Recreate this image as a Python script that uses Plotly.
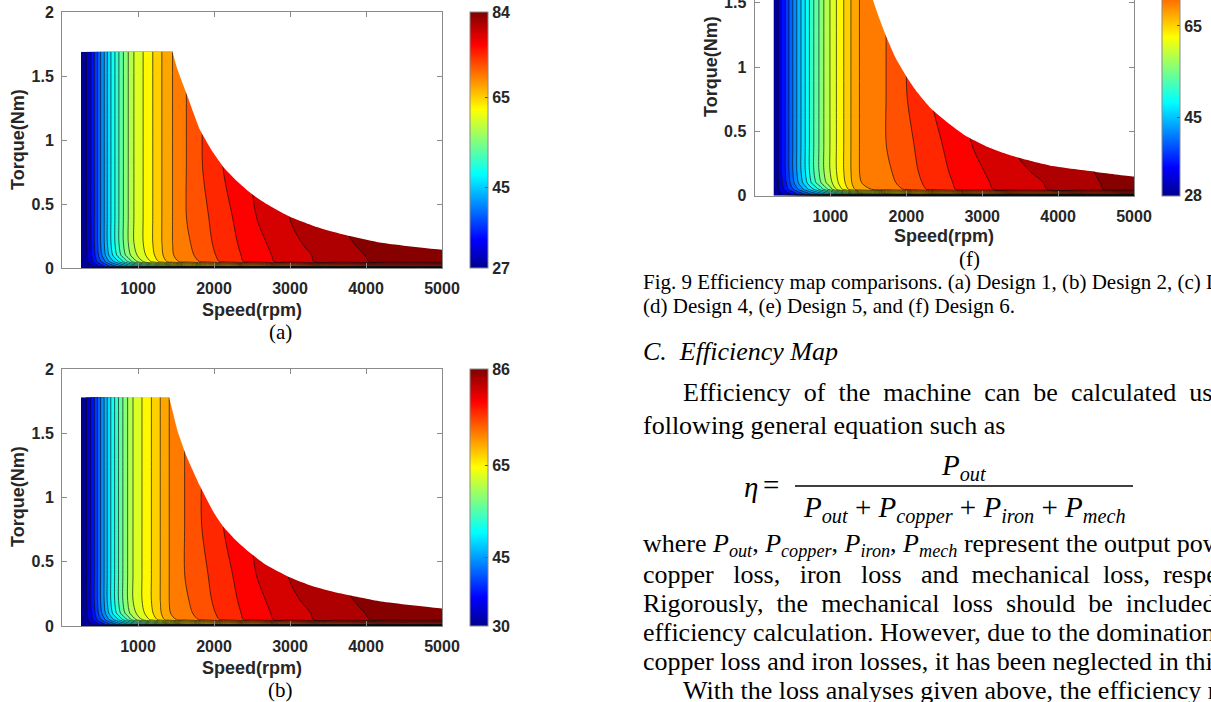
import plotly.graph_objects as go

W, H = 1211, 702

# ------------------------------------------------------------------ data
# Design 1 (a)
speed_a = [250, 325, 382, 425, 469, 509, 557, 596, 645, 697, 750, 807, 873, 947,
           1070, 1193, 1316, 1456, 1640, 1850, 2120, 2480, 3000, 3650, 4300, 5000]
torque_a = [0, 0.012, 0.05, 0.1, 0.2, 0.4, 0.8, 1.2, 1.69]
eff_a = [
    [27.1, 27.1, 27.1, 27.1, 27.1, 27.1, 27.1, 27.1, 27.1, 27.1, 27.1, 27.1, 27.1, 27.1, 27.1, 27.1, 27.1, 27.1, 27.1, 27.1, 27.1, 27.1, 27.1, 27.1, 27.1, 27.1],
    [27.1, 28.0, 29.0, 30.0, 31.0, 32.0, 33.5, 35.0, 36.6, 38.0, 39.5, 41.0, 43.0, 45.0, 47.5, 50.0, 52.0, 54.0, 56.5, 58.5, 61.0, 63.5, 66.0, 68.5, 70.0, 71.0],
    [27.2, 28.8, 30.6, 32.5, 34.55, 36.3, 38.3, 40.2, 42.25, 44.2, 46.1, 48.5, 51.15, 54.3, 57.9, 60.8, 63.7, 66.6, 68.35, 70.1, 72.6, 75.2, 78.0, 80.6, 82.3, 83.5],
    [27.2, 29.1, 31.3, 33.5, 35.85, 38.1, 40.4, 42.6, 45.05, 47.3, 49.7, 52.0, 54.55, 57.0, 59.6, 62.1, 64.75, 67.25, 68.9, 70.75, 72.9, 75.35, 78.2, 80.6, 82.6, 83.95],
    [27.2, 29.4, 31.8, 34.1, 36.55, 38.9, 41.3, 43.6, 46.05, 48.4, 50.8, 53.1, 55.55, 57.9, 60.3, 62.6, 65.05, 67.4, 69.3, 71.2, 73.2, 75.7, 78.65, 81.25, 82.6, 83.5],
    [27.2, 29.4, 31.8, 34.1, 36.55, 38.9, 41.3, 43.6, 46.05, 48.4, 50.8, 53.1, 55.55, 57.9, 60.3, 62.6, 65.05, 67.4, 69.8, 71.55, 73.5, 76.45, 79.3, 81.6, 82.8, 83.6],
    [27.2, 29.4, 31.8, 34.1, 36.55, 38.9, 41.3, 43.6, 46.05, 48.4, 50.8, 53.1, 55.55, 57.9, 60.3, 62.6, 65.05, 67.4, 69.8, 72.15, 74.55, 76.9, 79.3, 81.6, 82.8, 83.6],
    [27.2, 29.4, 31.8, 34.1, 36.55, 38.9, 41.3, 43.6, 46.05, 48.4, 50.8, 53.1, 55.55, 57.9, 60.3, 62.6, 65.05, 67.4, 69.8, 72.15, 74.55, 76.9, 79.3, 81.6, 82.8, 83.6],
    [27.2, 29.4, 31.8, 34.1, 36.55, 38.9, 41.3, 43.6, 46.05, 48.4, 50.8, 53.1, 55.55, 57.9, 60.3, 62.6, 65.05, 67.4, 69.8, 72.15, 74.55, 76.9, 79.3, 81.6, 82.8, 83.6],
]
edge_speed_a = [1456, 1520, 1640, 1816, 1991, 2123, 2300, 2482, 2693, 3000, 3351, 3658, 4228, 5000]
edge_torque_a = [1.69, 1.55, 1.36, 1.08, 0.90, 0.79, 0.68, 0.586, 0.50, 0.40, 0.32, 0.268, 0.195, 0.143]
cbar_a = [27, 45, 65, 84]

# Design 2 (b)
speed_b = [250, 325, 380, 425, 468, 508, 555, 595, 643, 693, 745, 800, 865, 935,
           1055, 1175, 1295, 1412, 1618, 1838, 2123, 2482, 2978, 3658, 4300, 5000]
torque_b = [0, 0.012, 0.05, 0.1, 0.2, 0.4, 0.8, 1.2, 1.78]
eff_b = [
    [30.1, 30.1, 30.1, 30.1, 30.1, 30.1, 30.1, 30.1, 30.1, 30.1, 30.1, 30.1, 30.1, 30.1, 30.1, 30.1, 30.1, 30.1, 30.1, 30.1, 30.1, 30.1, 30.1, 30.1, 30.1, 30.1],
    [30.1, 31.0, 32.0, 33.0, 33.9, 34.9, 36.4, 37.9, 39.3, 40.8, 42.3, 43.8, 45.7, 47.7, 50.1, 52.6, 54.6, 56.5, 59.0, 61.0, 63.4, 65.9, 68.3, 70.8, 72.2, 73.2],
    [30.2, 31.77, 33.54, 35.4, 37.42, 39.14, 41.1, 42.97, 44.98, 46.9, 48.77, 51.12, 53.73, 56.82, 60.36, 63.21, 66.06, 68.91, 70.62, 72.34, 74.8, 77.36, 80.11, 82.66, 84.33, 85.51],
    [30.2, 32.06, 34.22, 36.39, 38.7, 40.9, 43.16, 45.33, 47.73, 49.94, 52.3, 54.56, 57.07, 59.47, 62.03, 64.48, 67.09, 69.54, 71.17, 72.98, 75.1, 77.51, 80.31, 82.66, 84.63, 85.95],
    [30.2, 32.36, 34.72, 36.98, 39.38, 41.69, 44.05, 46.31, 48.72, 51.02, 53.38, 55.64, 58.05, 60.36, 62.72, 64.98, 67.38, 69.69, 71.56, 73.43, 75.39, 77.85, 80.75, 83.3, 84.63, 85.51],
    [30.2, 32.36, 34.72, 36.98, 39.38, 41.69, 44.05, 46.31, 48.72, 51.02, 53.38, 55.64, 58.05, 60.36, 62.72, 64.98, 67.38, 69.69, 72.05, 73.77, 75.69, 78.58, 81.38, 83.64, 84.82, 85.61],
    [30.2, 32.36, 34.72, 36.98, 39.38, 41.69, 44.05, 46.31, 48.72, 51.02, 53.38, 55.64, 58.05, 60.36, 62.72, 64.98, 67.38, 69.69, 72.05, 74.36, 76.72, 79.03, 81.38, 83.64, 84.82, 85.61],
    [30.2, 32.36, 34.72, 36.98, 39.38, 41.69, 44.05, 46.31, 48.72, 51.02, 53.38, 55.64, 58.05, 60.36, 62.72, 64.98, 67.38, 69.69, 72.05, 74.36, 76.72, 79.03, 81.38, 83.64, 84.82, 85.61],
    [30.2, 32.36, 34.72, 36.98, 39.38, 41.69, 44.05, 46.31, 48.72, 51.02, 53.38, 55.64, 58.05, 60.36, 62.72, 64.98, 67.38, 69.69, 72.05, 74.36, 76.72, 79.03, 81.38, 83.64, 84.82, 85.61],
]
edge_speed_b = [1412, 1443, 1520, 1640, 1816, 1991, 2123, 2300, 2482, 2700, 2978, 3300, 3658, 4200, 5000]
edge_torque_b = [1.78, 1.70, 1.52, 1.32, 1.09, 0.89, 0.773, 0.66, 0.566, 0.47, 0.384, 0.31, 0.254, 0.19, 0.137]
cbar_b = [30, 45, 65, 86]

# Design 6 (f)
speed_f = [250, 312, 357, 406, 455, 505, 558, 612, 670, 724, 782, 848, 915, 995,
           1081, 1175, 1272, 1384, 1741, 2009, 2322, 2769, 3393, 4350, 4750, 5000]
torque_f = [0, 0.012, 0.05, 0.1, 0.2, 0.4, 0.8, 1.2, 1.70]
eff_f = [
    [28.1, 28.1, 28.1, 28.1, 28.1, 28.1, 28.1, 28.1, 28.1, 28.1, 28.1, 28.1, 28.1, 28.1, 28.1, 28.1, 28.1, 28.1, 28.1, 28.1, 28.1, 28.1, 28.1, 28.1, 28.1, 28.1],
    [28.1, 29.0, 30.0, 31.0, 31.9, 32.9, 34.4, 35.9, 37.3, 38.8, 40.3, 41.8, 43.7, 45.7, 48.1, 50.6, 52.6, 54.5, 57.0, 59.0, 61.4, 63.9, 66.3, 68.8, 70.2, 71.2],
    [28.2, 29.77, 31.54, 33.4, 35.42, 37.14, 39.1, 40.97, 42.98, 44.9, 46.77, 49.12, 51.73, 54.82, 58.36, 61.21, 64.06, 66.91, 68.62, 70.34, 72.8, 75.36, 78.11, 80.66, 82.33, 83.51],
    [28.2, 30.06, 32.22, 34.39, 36.7, 38.9, 41.16, 43.33, 45.73, 47.94, 50.3, 52.56, 55.07, 57.47, 60.03, 62.48, 65.09, 67.54, 69.17, 70.98, 73.1, 75.51, 78.31, 80.66, 82.63, 83.95],
    [28.2, 30.36, 32.72, 34.98, 37.38, 39.69, 42.05, 44.31, 46.72, 49.02, 51.38, 53.64, 56.05, 58.36, 60.72, 62.98, 65.38, 67.69, 69.56, 71.43, 73.39, 75.85, 78.75, 81.3, 82.63, 83.51],
    [28.2, 30.36, 32.72, 34.98, 37.38, 39.69, 42.05, 44.31, 46.72, 49.02, 51.38, 53.64, 56.05, 58.36, 60.72, 62.98, 65.38, 67.69, 70.05, 71.77, 73.69, 76.58, 79.38, 81.64, 82.82, 83.61],
    [28.2, 30.36, 32.72, 34.98, 37.38, 39.69, 42.05, 44.31, 46.72, 49.02, 51.38, 53.64, 56.05, 58.36, 60.72, 62.98, 65.38, 67.69, 70.05, 72.36, 74.72, 77.03, 79.38, 81.64, 82.82, 83.61],
    [28.2, 30.36, 32.72, 34.98, 37.38, 39.69, 42.05, 44.31, 46.72, 49.02, 51.38, 53.64, 56.05, 58.36, 60.72, 62.98, 65.38, 67.69, 70.05, 72.36, 74.72, 77.03, 79.38, 81.64, 82.82, 83.61],
    [28.2, 30.36, 32.72, 34.98, 37.38, 39.69, 42.05, 44.31, 46.72, 49.02, 51.38, 53.64, 56.05, 58.36, 60.72, 62.98, 65.38, 67.69, 70.05, 72.36, 74.72, 77.03, 79.38, 81.64, 82.82, 83.61],
]
edge_speed_f = [1480, 1562, 1650, 1741, 1860, 2009, 2150, 2322, 2550, 2769, 3050, 3393, 3929, 4500, 5000]
edge_torque_f = [1.70, 1.52, 1.37, 1.23, 1.07, 0.92, 0.80, 0.68, 0.565, 0.47, 0.385, 0.31, 0.23, 0.185, 0.15]
cbar_f = [28, 45, 65, 84]

speed_ticks = [1000, 2000, 3000, 4000, 5000]
torque_ticks = [0, 0.5, 1, 1.5, 2]
torque_tick_text = ['0', '0.5', '1', '1.5', '2']

# ------------------------------------------------------------------ style
# MATLAB "jet" for the colour bars
JET = [[0.0, 'rgb(0,0,143)'], [0.111, 'rgb(0,0,255)'], [0.365, 'rgb(0,255,255)'],
       [0.619, 'rgb(255,255,0)'], [0.873, 'rgb(255,0,0)'], [1.0, 'rgb(128,0,0)']]
# same map, read one band higher, as the filled bands of contourf appear
JET_FILL = [[0.0, 'rgb(0,0,150)'], [0.069, 'rgb(0,0,255)'], [0.323, 'rgb(0,255,255)'],
            [0.577, 'rgb(255,255,0)'], [0.831, 'rgb(255,0,0)'], [0.958, 'rgb(135,0,0)'],
            [1.0, 'rgb(128,0,0)']]
AXC = '#8a8a8a'
TXT = '#262626'
SANS = 'Liberation Sans'
SERIF = 'Liberation Serif'
tickfont = dict(family=SANS, size=16, color=TXT, weight='bold')


def px(x):
    return x / W


def py(y):
    return 1 - y / H


fig = go.Figure()

panels = [
    dict(n='', speed=speed_a, torque=torque_a, eff=eff_a, es=edge_speed_a, et=edge_torque_a,
         cb=cbar_a, box=(62, 442, 12, 268), ytop=2.0, cbx=470, cby=(12, 268),
         ytitle=(18, 140), xtitle=(252, 310), label=('(a)', 280, 332), top=True),
    dict(n='2', speed=speed_b, torque=torque_b, eff=eff_b, es=edge_speed_b, et=edge_torque_b,
         cb=cbar_b, box=(62, 442, 369, 626), ytop=2.0, cbx=470, cby=(369, 626),
         ytitle=(18, 497), xtitle=(252, 668), label=('(b)', 280, 690), top=True),
    dict(n='3', speed=speed_f, torque=torque_f, eff=eff_f, es=edge_speed_f, et=edge_torque_f,
         cb=cbar_f, box=(754.5, 1134, 0, 195.7), ytop=195.7 / 128.6, cbx=1161.5, cby=(-61, 195.7),
         ytitle=(711, 67), xtitle=(944, 236), label=('(f)', 969, 259), top=False),
]

layout_axes = {}
for p in panels:
    xa, ya = 'x' + p['n'], 'y' + p['n']
    cmin, cmax = p['cb'][0], p['cb'][-1]
    step = (cmax - cmin) / 24.0
    fig.add_trace(go.Contour(
        x=p['speed'], y=p['torque'], z=p['eff'], xaxis=xa, yaxis=ya,
        colorscale=JET_FILL, autocontour=False,
        contours=dict(start=cmin + step, end=cmax + 0.01, size=step, coloring='fill', showlines=True),
        line=dict(color='rgba(15,15,15,0.85)', width=0.8, smoothing=0.9),
        showscale=False, hoverinfo='skip'))
    # white region above the operating envelope
    mx = [p['es'][0], p['es'][0]] + p['es'] + [5300, 5300]
    my = [2.6, p['et'][0] + 0.04] + p['et'] + [p['et'][-1], 2.6]
    fig.add_trace(go.Scatter(
        x=mx, y=my, xaxis=xa, yaxis=ya, mode='lines', fill='toself', fillcolor='white',
        line=dict(color='white', width=0, shape='spline', smoothing=0.5),
        hoverinfo='skip', showlegend=False))
    # continuous colour bar
    cy0, cy1 = p['cby']
    fig.add_trace(go.Scatter(
        x=[None], y=[None], xaxis=xa, yaxis=ya, mode='markers', hoverinfo='skip', showlegend=False,
        marker=dict(color=[cmin, cmax], cmin=cmin, cmax=cmax, colorscale=JET, showscale=True,
                    colorbar=dict(x=px(p['cbx']), xanchor='left', y=py(cy1), yanchor='bottom',
                                  len=(cy1 - cy0) / H, lenmode='fraction', thickness=18,
                                  thicknessmode='pixels', xpad=0, ypad=0, outlinewidth=1,
                                  outlinecolor=AXC, tickmode='array', tickvals=p['cb'],
                                  ticktext=[str(v) for v in p['cb']], ticks='inside', ticklen=3,
                                  tickcolor='#555', tickfont=tickfont))))
    x0, x1, y0, y1 = p['box']
    layout_axes['xaxis' + p['n']] = dict(
        domain=[px(x0), px(x1)], anchor=ya, range=[0, 5000], tickmode='array', tickvals=speed_ticks,
        ticks='inside', ticklen=5, tickcolor=AXC, showline=True, linecolor=AXC, linewidth=1,
        mirror='ticks' if p['top'] else False, showgrid=False, zeroline=False, tickfont=tickfont,
        ticklabelstandoff=6, fixedrange=True, automargin=False)
    layout_axes['yaxis' + p['n']] = dict(
        domain=[py(y1), py(y0)], anchor=xa, range=[0, p['ytop']], tickmode='array',
        tickvals=torque_ticks, ticktext=torque_tick_text, ticks='inside', ticklen=5, tickcolor=AXC,
        showline=True, linecolor=AXC, linewidth=1, mirror='ticks', showgrid=False, zeroline=False,
        tickfont=tickfont, ticklabelstandoff=4, ticklabeloverflow='allow', fixedrange=True,
        automargin=False)


def ann(text, x, y, size, family=SERIF, xanchor='left', yanchor='middle', weight='normal',
        color='#000', angle=0):
    fig.add_annotation(text=text, x=px(x), y=py(y), xref='paper', yref='paper', xanchor=xanchor,
                       yanchor=yanchor, showarrow=False, textangle=angle, borderpad=0,
                       font=dict(family=family, size=size, color=color, weight=weight))


for p in panels:
    ann('Torque(Nm)', p['ytitle'][0], p['ytitle'][1], 18, SANS, 'center', 'middle', 'bold', TXT, -90)
    ann('Speed(rpm)', p['xtitle'][0], p['xtitle'][1], 18, SANS, 'center', 'middle', 'bold', TXT)
    ann(p['label'][0], p['label'][1], p['label'][2], 21, SERIF, 'center', 'middle')

# ------------------------------------------------------------------ page text
NB = '\u00a0'
ann('Fig. 9 Efficiency map comparisons. (a) Design 1, (b) Design 2, (c) Design 3,', 642, 282, 21)
ann('(d) Design 4, (e) Design 5, and (f) Design 6.', 642, 306, 21)
ann('<i>C.' + NB + NB + 'Efficiency Map</i>', 642, 351, 26)
g2 = ' ' + NB
ann(g2.join(['Efficiency', 'of', 'the', 'machine', 'can', 'be', 'calculated', 'using the']), 682, 392, 26)
ann('following general equation such as', 642, 425, 26)

P = lambda s: '<i>P</i><sub><i>' + s + '</i></sub>'
ann(P('out'), 964, 467, 29, SERIF, 'center')
ann(P('out') + ' + ' + P('copper') + ' + ' + P('iron') + ' + ' + P('mech'), 964, 509, 29, SERIF, 'center')
ann('<i>η</i>', 751, 487, 29, SERIF, 'center')
ann('=', 771, 485, 29, SERIF, 'center')
fig.add_shape(type='line', xref='paper', yref='paper', x0=px(795), x1=px(1133), y0=py(486), y1=py(486),
              line=dict(color='#000', width=1.5))

ann('where ' + P('out') + ', ' + P('copper') + ', ' + P('iron') + ', ' + P('mech') +
    ' represent the output power,', 642, 545, 26)
g3 = ' ' + NB + NB
ann('copper' + g3 + 'loss,' + g3 + 'iron' + g3 + 'loss' + g3 + 'and' + g2 + 'mechanical' + g2 +
    'loss,' + g2 + 'respectively.', 642, 574, 26)
ann(g2.join(['Rigorously,', 'the', 'mechanical', 'loss', 'should', 'be', 'included', 'in the']), 642, 603, 26)
ann('efficiency calculation. However, due to the domination of', 642, 632, 26)
ann('copper loss and iron losses, it has been neglected in this', 642, 661, 26)
ann('With the loss analyses given above, the efficiency maps', 682, 690, 26)

fig.update_layout(width=W, height=H, margin=dict(l=0, r=0, t=0, b=0, autoexpand=False),
                  showlegend=False, paper_bgcolor='white', plot_bgcolor='white', **layout_axes)

fig.write_html('out.html')
